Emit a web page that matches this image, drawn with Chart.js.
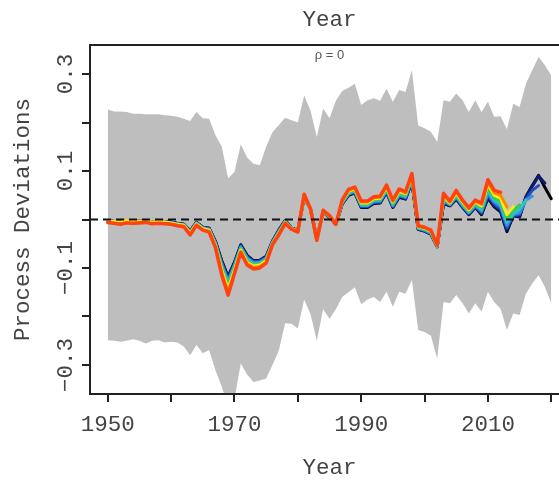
<!DOCTYPE html>
<html>
<head>
<meta charset="utf-8">
<script src="https://cdn.jsdelivr.net/npm/chart.js@4.4.1/dist/chart.umd.min.js"></script>
<style>
  html, body { margin:0; padding:0; overflow:hidden; background:#fff; }
  #wrap { width:580px; height:482px; }
</style>
</head>
<body>
<div id="wrap"><canvas id="chart" width="580" height="482"></canvas></div>
<script>
// years and series
const years = [];
for (let y = 1950; y <= 2020; y++) years.push(y);

const bandHi = [
  0.227, 0.223, 0.223, 0.222, 0.218, 0.218, 0.217, 0.217, 0.217, 0.215,
  0.214, 0.212, 0.208, 0.203, 0.222, 0.209, 0.208, 0.174, 0.150, 0.085,
  0.098, 0.155, 0.128, 0.115, 0.112, 0.150, 0.180, 0.195, 0.210, 0.205,
  0.200, 0.256, 0.225, 0.170, 0.229, 0.209, 0.245, 0.265, 0.272, 0.280,
  0.236, 0.246, 0.250, 0.245, 0.270, 0.243, 0.267, 0.263, 0.308, 0.194,
  0.188, 0.181, 0.160, 0.246, 0.243, 0.260, 0.246, 0.222, 0.246, 0.222,
  0.243, 0.212, 0.213, 0.186, 0.239, 0.232, 0.280, 0.308, 0.335, 0.318, 0.297
];
const bandLo = [
  -0.249, -0.250, -0.252, -0.250, -0.247, -0.250, -0.256, -0.250, -0.249, -0.254,
  -0.252, -0.254, -0.262, -0.280, -0.259, -0.276, -0.269, -0.311, -0.345, -0.385,
  -0.370, -0.297, -0.320, -0.335, -0.332, -0.328, -0.300, -0.270, -0.214, -0.215,
  -0.225, -0.165, -0.195, -0.250, -0.185, -0.205, -0.185, -0.160, -0.150, -0.140,
  -0.175, -0.165, -0.160, -0.170, -0.149, -0.180, -0.149, -0.153, -0.125, -0.228,
  -0.232, -0.240, -0.287, -0.170, -0.173, -0.156, -0.173, -0.194, -0.173, -0.190,
  -0.149, -0.170, -0.184, -0.228, -0.194, -0.197, -0.153, -0.132, -0.115, -0.139, -0.173
];

// retrospective peels, ending 2012 .. 2020
const peel2012 = [
  -0.006, -0.008, -0.010, -0.007, -0.008, -0.007, -0.006, -0.009, -0.008, -0.009,
  -0.010, -0.013, -0.015, -0.032, -0.012, -0.022, -0.026, -0.058, -0.115, -0.156,
  -0.112, -0.068, -0.094, -0.102, -0.100, -0.090, -0.052, -0.032, -0.008, -0.020,
  -0.026, 0.052, 0.022, -0.043, 0.019, 0.008, -0.010, 0.040, 0.062, 0.067,
  0.038, 0.038, 0.047, 0.048, 0.071, 0.040, 0.063, 0.057, 0.095, -0.013,
  -0.016, -0.022, -0.053, 0.054, 0.038, 0.060, 0.040, 0.024, 0.040, 0.034,
  0.082, 0.060, 0.056
];
const peel2013 = [
  -0.005, -0.007, -0.009, -0.006, -0.007, -0.006, -0.005, -0.008, -0.007, -0.008,
  -0.009, -0.012, -0.014, -0.030, -0.011, -0.021, -0.024, -0.056, -0.110, -0.150,
  -0.108, -0.066, -0.091, -0.099, -0.097, -0.088, -0.051, -0.030, -0.007, -0.020,
  -0.025, 0.051, 0.022, -0.043, 0.019, 0.007, -0.010, 0.039, 0.060, 0.065,
  0.036, 0.036, 0.045, 0.046, 0.069, 0.038, 0.061, 0.055, 0.093, -0.014,
  -0.017, -0.023, -0.054, 0.051, 0.036, 0.057, 0.038, 0.022, 0.038, 0.031,
  0.077, 0.055, 0.050, 0.026
];
const peel2014 = [
  -0.003, -0.004, -0.005, -0.002, -0.004, -0.003, -0.003, -0.005, -0.004, -0.005,
  -0.007, -0.010, -0.012, -0.028, -0.009, -0.019, -0.022, -0.054, -0.104, -0.143,
  -0.104, -0.063, -0.088, -0.096, -0.094, -0.085, -0.050, -0.029, -0.006, -0.019,
  -0.025, 0.050, 0.022, -0.042, 0.018, 0.007, -0.010, 0.038, 0.058, 0.063,
  0.034, 0.034, 0.043, 0.044, 0.066, 0.036, 0.058, 0.053, 0.090, -0.015,
  -0.018, -0.024, -0.054, 0.048, 0.034, 0.054, 0.036, 0.020, 0.036, 0.028,
  0.072, 0.050, 0.044, 0.010, 0.026
];
const peel2015 = [
  -0.004, -0.006, -0.007, -0.004, -0.006, -0.005, -0.004, -0.007, -0.005, -0.006,
  -0.007, -0.010, -0.012, -0.028, -0.009, -0.019, -0.022, -0.052, -0.100, -0.136,
  -0.100, -0.061, -0.085, -0.094, -0.092, -0.083, -0.049, -0.027, -0.005, -0.019,
  -0.024, 0.049, 0.022, -0.042, 0.018, 0.006, -0.010, 0.036, 0.057, 0.061,
  0.032, 0.032, 0.041, 0.042, 0.064, 0.033, 0.056, 0.050, 0.087, -0.016,
  -0.019, -0.025, -0.055, 0.045, 0.033, 0.052, 0.033, 0.018, 0.033, 0.024,
  0.066, 0.045, 0.038, 0.002, 0.018, 0.030
];
const peel2016 = [
  -0.003, -0.005, -0.007, -0.004, -0.006, -0.004, -0.004, -0.007, -0.005, -0.006,
  -0.007, -0.010, -0.012, -0.027, -0.008, -0.018, -0.021, -0.050, -0.097, -0.132,
  -0.097, -0.059, -0.082, -0.092, -0.090, -0.082, -0.048, -0.026, -0.004, -0.019,
  -0.024, 0.048, 0.022, -0.041, 0.017, 0.006, -0.010, 0.035, 0.055, 0.060,
  0.030, 0.030, 0.039, 0.040, 0.062, 0.031, 0.053, 0.048, 0.085, -0.017,
  -0.020, -0.026, -0.055, 0.042, 0.032, 0.049, 0.031, 0.016, 0.031, 0.020,
  0.060, 0.040, 0.032, -0.006, 0.012, 0.022, 0.040
];
const peel2017 = [
  -0.003, -0.005, -0.006, -0.003, -0.005, -0.004, -0.003, -0.006, -0.004, -0.005,
  -0.006, -0.009, -0.011, -0.026, -0.007, -0.017, -0.020, -0.049, -0.093, -0.128,
  -0.094, -0.057, -0.080, -0.089, -0.088, -0.080, -0.047, -0.025, -0.004, -0.018,
  -0.023, 0.048, 0.022, -0.041, 0.017, 0.005, -0.010, 0.034, 0.053, 0.058,
  0.029, 0.029, 0.037, 0.038, 0.060, 0.029, 0.051, 0.046, 0.083, -0.018,
  -0.022, -0.028, -0.056, 0.039, 0.031, 0.047, 0.029, 0.014, 0.029, 0.017,
  0.055, 0.036, 0.027, -0.012, 0.010, 0.014, 0.040, 0.048
];
const peel2018 = [
  -0.002, -0.004, -0.005, -0.003, -0.004, -0.004, -0.003, -0.006, -0.004, -0.005,
  -0.006, -0.008, -0.011, -0.025, -0.007, -0.017, -0.019, -0.047, -0.090, -0.124,
  -0.092, -0.055, -0.077, -0.087, -0.086, -0.078, -0.046, -0.024, -0.003, -0.018,
  -0.023, 0.047, 0.022, -0.040, 0.016, 0.005, -0.010, 0.033, 0.052, 0.057,
  0.027, 0.027, 0.035, 0.036, 0.058, 0.027, 0.049, 0.044, 0.081, -0.019,
  -0.023, -0.029, -0.056, 0.036, 0.030, 0.045, 0.027, 0.012, 0.027, 0.014,
  0.050, 0.032, 0.022, -0.017, 0.009, 0.010, 0.042, 0.060, 0.070
];
const peel2019 = [
  -0.002, -0.004, -0.005, -0.002, -0.004, -0.003, -0.002, -0.005, -0.003, -0.004,
  -0.005, -0.008, -0.010, -0.024, -0.006, -0.016, -0.018, -0.046, -0.087, -0.120,
  -0.090, -0.053, -0.075, -0.086, -0.085, -0.077, -0.045, -0.022, -0.002, -0.018,
  -0.022, 0.046, 0.022, -0.040, 0.016, 0.004, -0.010, 0.032, 0.051, 0.056,
  0.026, 0.026, 0.034, 0.035, 0.057, 0.026, 0.047, 0.043, 0.079, -0.020,
  -0.024, -0.030, -0.056, 0.034, 0.029, 0.043, 0.026, 0.011, 0.026, 0.012,
  0.046, 0.028, 0.018, -0.022, 0.008, 0.006, 0.046, 0.068, 0.090, 0.075
];
const peel2020 = [
  -0.002, -0.004, -0.005, -0.002, -0.004, -0.003, -0.002, -0.005, -0.003, -0.004,
  -0.005, -0.008, -0.010, -0.024, -0.006, -0.016, -0.018, -0.045, -0.085, -0.118,
  -0.088, -0.052, -0.074, -0.085, -0.084, -0.076, -0.045, -0.022, -0.002, -0.018,
  -0.022, 0.046, 0.022, -0.040, 0.016, 0.004, -0.010, 0.032, 0.050, 0.055,
  0.025, 0.025, 0.033, 0.034, 0.056, 0.025, 0.046, 0.042, 0.078, -0.020,
  -0.024, -0.030, -0.056, 0.033, 0.028, 0.042, 0.025, 0.010, 0.025, 0.010,
  0.044, 0.026, 0.016, -0.025, 0.008, 0.005, 0.047, 0.070, 0.091, 0.066, 0.043
];

const peels = [peel2020, peel2019, peel2018, peel2017, peel2016, peel2015, peel2014, peel2013, peel2012];
const peelColors = ["#000000", "#0b1c72", "#1f50c2", "#3a8fe0", "#2ec4c4", "#35cc55", "#ffe81a", "#ff8a00", "#ff4210"];

const xTicks = [1950, 1960, 1970, 1980, 1990, 2000, 2010, 2020];
const xLabels = [1950, 1970, 1990, 2010];
const yLabels = [-0.3, -0.1, 0.1, 0.3];

const X_MIN = 1947.2, X_MAX = 2022.8;
const Y_MIN = -0.36, Y_MAX = 0.36;
const FONT = "'Liberation Mono', 'Courier New', monospace";
const TXT = "#444";

const toXY = arr => arr.map((v, i) => ({ x: years[i], y: v }));

const datasets = [
  { data: toXY(bandHi), borderWidth: 0, pointRadius: 0, fill: 1, backgroundColor: "#bebebe", order: 50 },
  { data: toXY(bandLo), borderWidth: 0, pointRadius: 0, fill: false, order: 51 }
];
peels.forEach((p, i) => {
  datasets.push({
    data: toXY(p),
    borderColor: peelColors[i],
    borderWidth: i === peels.length - 1 ? 3.5 : 3,
    pointRadius: 0,
    fill: false,
    tension: 0,
    borderJoinStyle: "round",
    borderCapStyle: "round",
    order: 20 - i
  });
});

// box, zero line, rotated y labels, rho text
const decor = {
  id: "decor",
  afterDatasetsDraw(chart) {
    const { ctx, chartArea: a, scales: { x, y } } = chart;
    const y0 = y.getPixelForValue(0);
    ctx.save();
    ctx.beginPath();
    ctx.rect(a.left, a.top, a.right - a.left, a.bottom - a.top);
    ctx.clip();
    ctx.strokeStyle = "#111";
    ctx.lineWidth = 2;
    ctx.setLineDash([8, 5]);
    ctx.beginPath();
    ctx.moveTo(a.left, y0);
    ctx.lineTo(a.right, y0);
    ctx.stroke();
    ctx.restore();
  },
  afterDraw(chart) {
    const { ctx, chartArea: a, scales: { y } } = chart;
    ctx.save();
    ctx.strokeStyle = "#222";
    ctx.lineWidth = 2;
    ctx.strokeRect(a.left, a.top, a.right - a.left, a.bottom - a.top);

    ctx.fillStyle = TXT;
    ctx.font = "22.5px " + FONT;
    ctx.textAlign = "center";
    ctx.textBaseline = "alphabetic";
    yLabels.forEach(v => {
      const py = y.getPixelForValue(v);
      ctx.save();
      ctx.translate(72, py);
      ctx.rotate(-Math.PI / 2);
      ctx.fillText((v < 0 ? "\u2212" : "") + Math.abs(v).toFixed(1), 0, 0);
      ctx.restore();
    });

    ctx.font = "13px 'Liberation Sans', sans-serif";
    ctx.fillStyle = "#555";
    ctx.textBaseline = "middle";
    ctx.fillText("\u03c1 = 0", (a.left + a.right) / 2, 55);
    ctx.restore();
  }
};

new Chart(document.getElementById("chart"), {
  type: "line",
  data: { datasets },
  options: {
    responsive: false,
    animation: false,
    devicePixelRatio: 1,
    layout: { padding: { left: 0, right: 11, top: 0, bottom: 0 } },
    plugins: { legend: { display: false }, tooltip: { enabled: false } },
    scales: {
      x: {
        type: "linear",
        position: "bottom",
        min: X_MIN, max: X_MAX,
        afterFit: s => { s.height = 88; },
        afterBuildTicks: s => { s.ticks = xTicks.map(v => ({ value: v })); },
        border: { display: false },
        grid: { drawOnChartArea: false, drawTicks: true, tickLength: 8, color: "#222", lineWidth: 2 },
        ticks: {
          padding: 10,
          maxRotation: 0,
          autoSkip: false,
          color: TXT,
          font: { family: FONT, size: 22.5 },
          callback: v => xLabels.includes(v) ? String(v) : ""
        },
        title: { display: true, text: "Year", color: TXT, font: { family: FONT, size: 22.5 }, padding: { top: 0, bottom: 0 } }
      },
      x2: {
        type: "linear",
        position: "top",
        min: X_MIN, max: X_MAX,
        afterFit: s => { s.height = 45; },
        border: { display: false },
        grid: { display: false },
        ticks: { display: false },
        title: { display: true, text: "Year", color: TXT, font: { family: FONT, size: 22.5 }, padding: { top: 7, bottom: 0 } }
      },
      y: {
        type: "linear",
        position: "left",
        min: Y_MIN, max: Y_MAX,
        afterFit: s => { s.width = 90; },
        afterBuildTicks: s => { s.ticks = [-0.3, -0.2, -0.1, 0, 0.1, 0.2, 0.3].map(v => ({ value: v })); },
        border: { display: false },
        grid: { drawOnChartArea: false, drawTicks: true, tickLength: 8, color: "#222", lineWidth: 2 },
        ticks: { display: false },
        title: { display: true, text: "Process Deviations", color: TXT, font: { family: FONT, size: 22.5 }, padding: { top: 10, bottom: 0 } }
      }
    }
  },
  plugins: [decor]
});
</script>
</body>
</html>
